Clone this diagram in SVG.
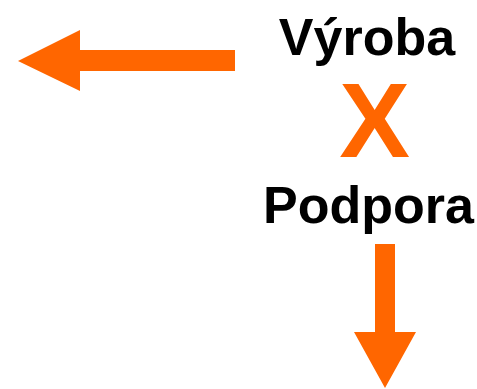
<svg xmlns="http://www.w3.org/2000/svg" width="477" height="389" viewBox="0 0 477 389">
<style>
.lbl{font-family:"Liberation Sans",Arial,sans-serif;font-weight:bold;fill:#000;text-anchor:middle}
.orange{fill:#FF6600}
</style>
<rect width="477" height="389" fill="#fff"/>
<g id="vyroba"><text class="lbl" x="367" y="55" font-size="52">Výroba</text></g>
<g id="x"><text class="lbl orange" x="374.5" y="157" font-size="106">X</text></g>
<g id="podpora"><text class="lbl" x="368.5" y="222.5" font-size="52">Podpora</text></g>
<g id="connectors">
<polygon class="orange" points="235,50 80,50 80,30 18,61 80,91 80,71 235,71"/>
<polygon class="orange" points="375,244 395,244 395,332 416,332 385,388 354,332 375,332"/>
</g>
</svg>
